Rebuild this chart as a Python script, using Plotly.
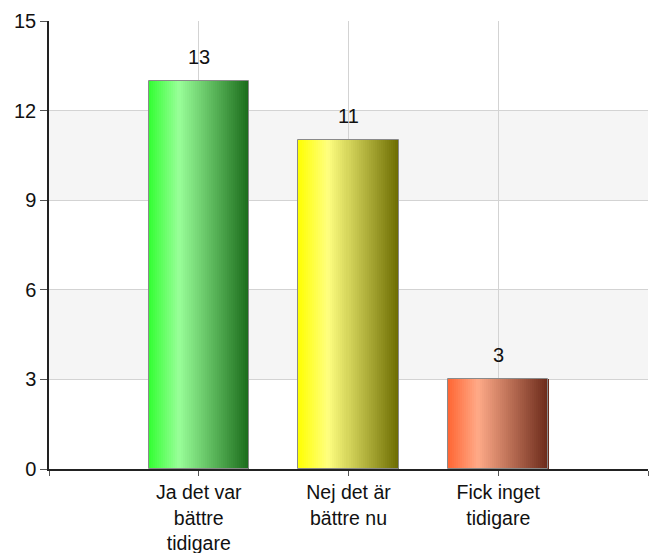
import plotly.graph_objects as go

categories = ["Ja det var<br>bättre<br>tidigare", "Nej det är<br>bättre nu", "Fick inget<br>tidigare"]
values = [13, 11, 3]
y_ticks = [0, 3, 6, 9, 12, 15]

# gradient stops per bar: (left, highlight, right)
grad_colors = [
    ((0x33, 0xff, 0x33), (0x99, 0xff, 0x99), (0x1a, 0x6b, 0x1a)),
    ((0xff, 0xff, 0x00), (0xff, 0xff, 0x80), (0x6b, 0x6b, 0x00)),
    ((0xff, 0x66, 0x33), (0xff, 0xaa, 0x88), (0x6b, 0x2a, 0x1a)),
]
HIGHLIGHT_POS = 0.3
N_SLICES = 50
BAR_W = 0.67

def lerp(c1, c2, t):
    return tuple(round(a + (b - a) * t) for a, b in zip(c1, c2))

def color_at(stops, t):
    l, h, r = stops
    if t <= HIGHLIGHT_POS:
        c = lerp(l, h, t / HIGHLIGHT_POS)
    else:
        c = lerp(h, r, (t - HIGHLIGHT_POS) / (1 - HIGHLIGHT_POS))
    return "rgb(%d,%d,%d)" % c

xs = list(range(len(categories)))
fig = go.Figure()

sw = BAR_W / N_SLICES
for i in range(N_SLICES):
    t = (i + 0.5) / N_SLICES
    fig.add_trace(go.Bar(
        x=xs, y=values,
        width=[sw * 1.15] * len(xs),
        offset=[-BAR_W / 2 + i * sw] * len(xs),
        marker=dict(color=[color_at(s, t) for s in grad_colors], line=dict(width=0)),
        hoverinfo="skip", showlegend=False,
    ))

# outline
fig.add_trace(go.Bar(
    x=xs, y=values, width=[BAR_W] * len(xs),
    marker=dict(color="rgba(0,0,0,0)", line=dict(color="#8a8a8a", width=1)),
    showlegend=False,
))

for x, v in zip(xs, values):
    fig.add_annotation(x=x, y=v, text=str(v), showarrow=False, yanchor="bottom",
                       yshift=11, font=dict(family="Liberation Sans, Arial", size=20, color="#111"))

# alternating bands
for k in range(len(y_ticks) - 1):
    if k % 2 == 1:
        fig.add_shape(type="rect", xref="paper", yref="y", x0=0, x1=1,
                      y0=y_ticks[k], y1=y_ticks[k + 1],
                      fillcolor="#f5f5f5", line=dict(width=0), layer="below")

fig.update_layout(
    width=649, height=553,
    margin=dict(l=49, r=1, t=21, b=84),
    barmode="overlay",
    bargap=0,
    plot_bgcolor="rgba(0,0,0,0)",
    paper_bgcolor="white",
    font=dict(family="Liberation Sans, Arial", size=20, color="#111"),
    xaxis=dict(
        range=[-1, 3],
        tickvals=[-1] + xs + [3],
        ticktext=[""] + categories + [""],
        showgrid=True, gridcolor="#d3d3d3", gridwidth=1,
        showline=True, linecolor="#222", linewidth=1.5,
        ticks="outside", ticklen=5, tickcolor="#555",
        zeroline=False, automargin=False,
        tickfont=dict(size=19.5),
    ),
    yaxis=dict(
        range=[0, 15],
        tickvals=y_ticks,
        showgrid=True, gridcolor="#d3d3d3", gridwidth=1,
        showline=True, linecolor="#222", linewidth=1.5,
        ticks="outside", ticklen=7, tickcolor="#555",
        zeroline=False, automargin=False,
        tickfont=dict(size=20),
    ),
)

fig.write_html("out.html", config={"displayModeBar": False},
               post_script="document.body.style.margin='0';document.body.style.overflow='hidden';")
